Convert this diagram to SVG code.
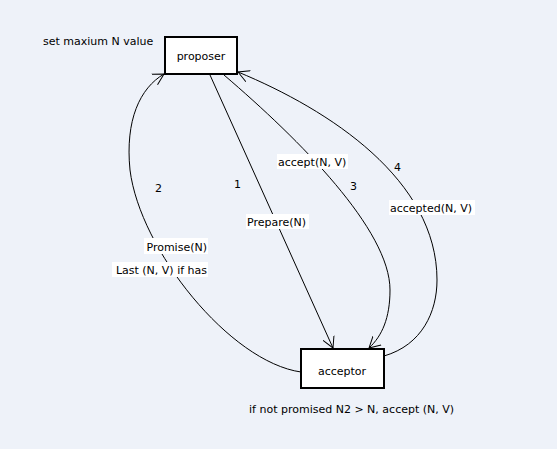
<svg xmlns="http://www.w3.org/2000/svg" width="557" height="449" viewBox="0 0 557 449">
<defs>
<style>
text{font-family:"DejaVu Sans","Liberation Sans",sans-serif;font-size:11px;fill:#000}
.node{fill:#fff;stroke:#000;stroke-width:2}
.edge{fill:none;stroke:#000;stroke-width:1;marker-end:url(#arr)}
.bg{fill:#fff}
</style>
<marker id="arr" markerUnits="userSpaceOnUse" markerWidth="14" markerHeight="14" refX="11" refY="6" orient="auto" viewBox="0 0 14 12">
<path d="M0,0 L11,6 L0,12" fill="none" stroke="#000" stroke-width="1"/>
</marker>
</defs>
<rect width="557" height="449" fill="#EEF2F9"/>
<g id="connectors">
<path class="edge" d="M210,75 L333,348"/>
<path class="edge" d="M301,372 C230,362 140,250 130,170 C125,120 140,88 164,74"/>
<path class="edge" d="M224,75 C300,140 390,230 390,290 C390,318 382,336 369,348"/>
<path class="edge" d="M384,356 C422,345 437,312 437,280 C437,180 330,110 238,72"/>
<rect class="bg" x="277" y="154" width="71" height="15"/>
<text x="278" y="166">accept(N, V)</text>
<rect class="bg" x="246" y="214" width="63" height="15"/>
<text x="247" y="226">Prepare(N)</text>
<rect class="bg" x="144" y="238" width="64" height="16"/>
<text x="207" y="251" text-anchor="end">Promise(N)</text>
<rect class="bg" x="112" y="262" width="96" height="15"/>
<text x="207" y="274" text-anchor="end">Last (N, V) if has</text>
<rect class="bg" x="389" y="200" width="86" height="15"/>
<text x="390" y="212">accepted(N, V)</text>
<text x="234" y="188">1</text>
<text x="155" y="192">2</text>
<text x="350" y="190">3</text>
<text x="394" y="171">4</text>
</g>
<g id="proposer">
<rect class="node" x="165" y="37" width="72" height="37"/>
<text x="201" y="60" text-anchor="middle">proposer</text>
</g>
<g id="acceptor">
<rect class="node" x="301" y="349" width="83" height="39"/>
<text x="342" y="375" text-anchor="middle">acceptor</text>
</g>
<text x="43" y="45">set maxium N value</text>
<text x="249" y="413">if not promised N2 &gt; N, accept (N, V)</text>
</svg>
